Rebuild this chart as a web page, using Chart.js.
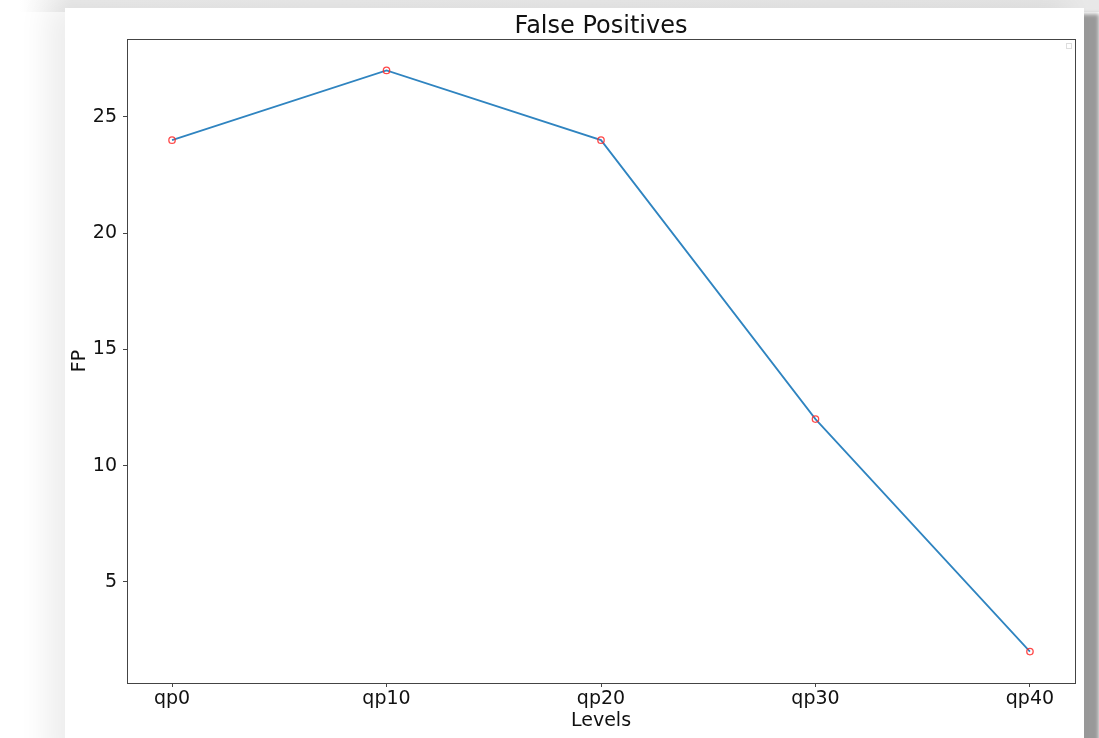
<!DOCTYPE html>
<html>
<head>
<meta charset="utf-8">
<script src="https://cdn.jsdelivr.net/npm/chart.js@4/dist/chart.umd.min.js"></script>
<style>
  html, body { margin: 0; padding: 0; width: 1099px; height: 738px; overflow: hidden; background: #ffffff; }
  #topband { position: absolute; left: 0; top: 0; width: 1099px; height: 12px;
    background: linear-gradient(to right, rgba(235,235,235,0) 20px, #ececec 70px, #e8e8e8 1099px); }
  #panel { position: absolute; left: 65px; top: 8px; width: 1019px; height: 760px; background: #ffffff;
    box-shadow: -18px -4px 28px rgba(0,0,0,0.07), 15px 6px 4px rgba(0,0,0,0.40); }
  #chart { position: absolute; left: 0; top: 0; }
</style>
</head>
<body>
<div id="topband"></div>
<div id="panel"><canvas id="chart" width="1019" height="730"></canvas></div>
<script>
// Levels on the x axis and the false-positive count at each level
const categories = ['qp0', 'qp10', 'qp20', 'qp30', 'qp40'];
const fpValues = [24, 27, 24, 12, 2];
const yTickValues = [5, 10, 15, 20, 25];

const FONT = 'DejaVu Sans';

// Box around the plot area plus the small empty legend frame in the corner
const framePlugin = {
  id: 'frame',
  afterDraw(chart) {
    const { ctx, chartArea: a } = chart;
    ctx.save();
    ctx.strokeStyle = '#dddddd';
    ctx.lineWidth = 1;
    ctx.strokeRect(Math.round(a.right) - 8.5, Math.round(a.top) + 4.5, 5, 5);
    ctx.strokeStyle = '#444444';
    ctx.lineWidth = 1;
    ctx.strokeRect(Math.round(a.left) + 0.5, Math.round(a.top) + 0.5,
                   Math.round(a.right - a.left), Math.round(a.bottom - a.top));
    ctx.restore();
  }
};

new Chart(document.getElementById('chart'), {
  type: 'line',
  data: {
    datasets: [{
      data: fpValues.map((v, i) => ({ x: i, y: v })),
      borderColor: '#2f84c0',
      borderWidth: 1.8,
      pointRadius: 3.2,
      pointBorderWidth: 1.3,
      pointBorderColor: 'rgba(255,40,40,0.85)',
      pointBackgroundColor: 'rgba(0,0,0,0)',
      tension: 0,
      fill: false
    }]
  },
  options: {
    responsive: false,
    animation: false,
    layout: { padding: { left: 0, right: 9, top: 0, bottom: 0 } },
    plugins: {
      legend: { display: false },
      tooltip: { enabled: false },
      title: {
        display: true,
        text: 'False Positives',
        fullSize: false,
        color: '#111111',
        font: { family: FONT, size: 24, weight: 'normal', lineHeight: 1.0 },
        padding: { top: 6.4, bottom: 0.6 }
      }
    },
    scales: {
      x: {
        type: 'linear',
        min: -0.21,
        max: 4.21,
        afterBuildTicks: s => { s.ticks = categories.map((c, i) => ({ value: i })); },
        afterFit: s => { s.height = 55; },
        border: { display: false },
        grid: { drawOnChartArea: false, drawTicks: true, tickLength: 4, tickColor: '#444444' },
        ticks: {
          padding: 1,
          color: '#111111',
          font: { family: FONT, size: 19 },
          maxRotation: 0,
          autoSkip: false,
          callback: v => categories[v]
        },
        title: {
          display: true,
          text: 'Levels',
          color: '#111111',
          font: { family: FONT, size: 19 },
          padding: { top: 0, bottom: 5.9 }
        }
      },
      y: {
        min: 0.65,
        max: 28.35,
        afterBuildTicks: s => { s.ticks = yTickValues.map(v => ({ value: v })); },
        afterFit: s => { s.width = 62; },
        border: { display: false },
        grid: { drawOnChartArea: false, drawTicks: true, tickLength: 4, tickColor: '#444444' },
        ticks: {
          padding: 6,
          color: '#111111',
          font: { family: FONT, size: 19 }
        },
        title: {
          display: true,
          text: 'FP',
          color: '#111111',
          font: { family: FONT, size: 19 },
          padding: { top: 3.3, bottom: 0 }
        }
      }
    }
  },
  plugins: [framePlugin]
});
</script>
</body>
</html>
